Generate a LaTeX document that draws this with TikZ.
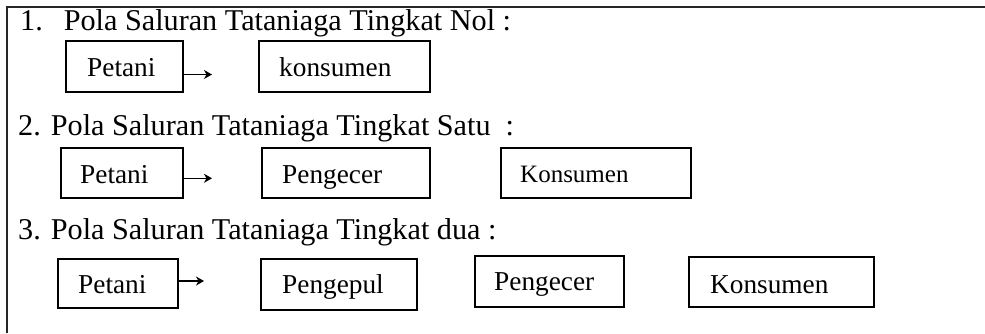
\documentclass[tikz,border=0pt]{standalone}
\usepackage{fontspec}
\setmainfont{Liberation Serif}
\usetikzlibrary{arrows.meta}

\tikzset{
  frameline/.style={line width=2pt, draw=black!85},
  box/.style={draw, line width=1.6pt, rectangle, inner sep=0pt},
  head/.style={anchor=base west, inner sep=0pt, font=\fontsize{30.2}{33}\selectfont},
  lbl/.style={anchor=base west, inner sep=0pt, font=\fontsize{27.3}{30}\selectfont},
  lblsmall/.style={anchor=base west, inner sep=0pt, font=\fontsize{25}{28}\selectfont},
  flow/.style={line width=1.1pt, -{Stealth[length=8pt,width=9pt,inset=2.5pt]}}
}

% place a box by its corner coordinates
\newcommand{\boxat}[5]{%
  \node[box, minimum width={#4-#2}, minimum height={#5-#3}] (#1) at ({(#2+#4)/2},{(#3+#5)/2}) {};}

\begin{document}
\begin{tikzpicture}[x=1pt, y=-1pt]
  \useasboundingbox (0,0) rectangle (985,333);

  % outer frame: top and left edges only
  \coordinate (ftl) at (7,7);
  \coordinate (ftr) at (985,7);
  \coordinate (fbl) at (7,333);
  \draw[frameline] (ftr) -- (ftl) -- (fbl);

  % --- level zero ---
  \node[head] (h1) at (20,30) {1.\hspace{21pt}Pola Saluran Tataniaga Tingkat Nol :};
  \boxat{a1}{66}{41}{183}{92}
  \boxat{a2}{259}{41}{430}{92}
  \node[lbl] (ta1) at (87,76) {Petani};
  \node[lbl] (ta2) at (279,76) {konsumen};
  \coordinate (ae) at (212,74.5);
  \draw[flow] (a1.east |- ae) -- (ae);

  % --- level one ---
  \node[head] (h2) at (18,135) {2. Pola Saluran Tataniaga Tingkat Satu\hspace{15pt}:};
  \boxat{b1}{61}{148}{183}{198}
  \boxat{b2}{262}{148}{430}{198}
  \boxat{b3}{501}{148}{691}{198}
  \node[lbl] (tb1) at (80,183) {Petani};
  \node[lbl] (tb2) at (282,183) {Pengecer};
  \node[lblsmall] (tb3) at (520,182) {Konsumen};
  \coordinate (be) at (212,178.3);
  \draw[flow] (b1.east |- be) -- (be);

  % --- level two ---
  \node[head] (h3) at (18,239) {3. Pola Saluran Tataniaga Tingkat dua :};
  \boxat{c1}{58}{259}{178}{308}
  \boxat{c2}{261}{259}{417}{310}
  \boxat{c3}{475}{256}{624}{307}
  \boxat{c4}{689}{257}{874}{307}
  \node[lbl] (tc1) at (78,293) {Petani};
  \node[lbl] (tc2) at (282,293) {Pengepul};
  \node[lbl] (tc3) at (494,290) {Pengecer};
  \node[lbl] (tc4) at (710,293) {Konsumen};
  \coordinate (ce) at (204,281);
  \draw[flow] (c1.east |- ce) -- (ce);
\end{tikzpicture}
\end{document}
